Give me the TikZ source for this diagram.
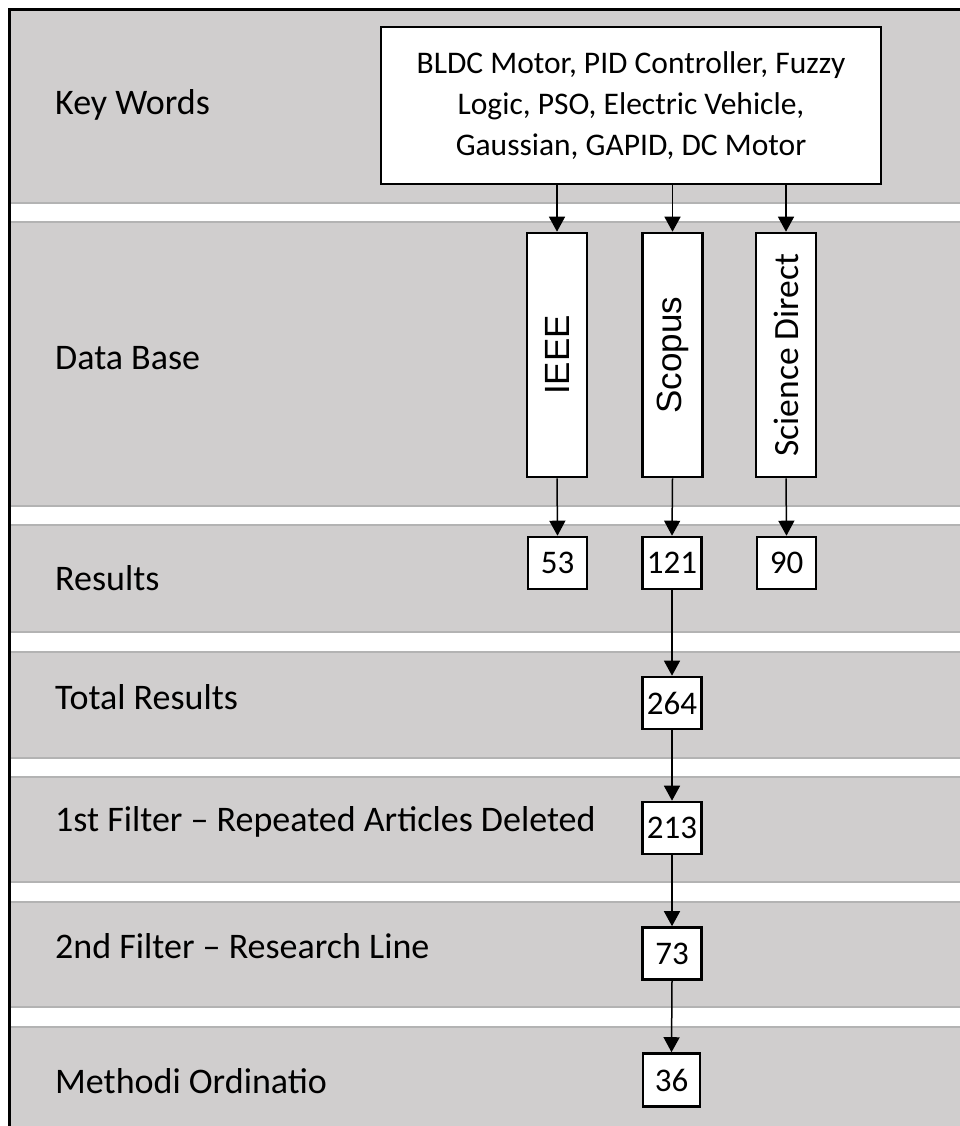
\documentclass[tikz,border=0pt]{standalone}
\usepackage{fontspec}
\setmainfont{Carlito}
\newfontfamily\arialf{Liberation Sans}
\usetikzlibrary{arrows.meta}
\definecolor{bandgray}{HTML}{D0CECE}
\definecolor{edgegray}{HTML}{B3B3B3}
\begin{document}
\begin{tikzpicture}[x=1pt,y=-1pt,
  box/.style={draw=black, line width=2.6pt, fill=white, inner sep=0pt},
  vbox/.style={box, minimum width=60pt, minimum height=244pt},
  nbox/.style={box, minimum width=59pt, minimum height=52pt, font=\fontsize{33}{38}\selectfont},
  lab/.style={anchor=west, inner sep=0pt, font=\fontsize{36}{42}\selectfont},
  arr/.style={line width=1.5pt, -{Triangle[width=16pt,length=15pt]}}]
\useasboundingbox (0,0) rectangle (960,1126);
\clip (0,0) rectangle (960,1126);
\fill[white] (0,0) rectangle (960,1126);
% bands
\foreach \a/\b in {10/203, 222/506, 525/632, 652/758, 777/882, 902/1007, 1027/1150} {
  \fill[bandgray] (9,\a) rectangle (970,\b);
  \draw[edgegray, line width=1.5pt] (9,\a) -- (970,\a) (9,\b) -- (970,\b);
}
% outer frame
\draw[line width=3pt] (9.5,10) rectangle (980,1160);
% labels
\node[lab] (l1) at (55,105) {Key Words};
\node[lab] (l2) at (55,358) {Data Base};
\node[lab] (l3) at (55,578) {Results};
\node[lab] (l4) at (55,697) {Total Results};
\node[lab] (l5) at (55,822) {1st Filter – Repeated Articles Deleted};
\node[lab] (l6) at (55,946) {2nd Filter – Research Line};
\node[lab] (l7) at (55,1081) {Methodi Ordinatio};
% key words box
\node[box, minimum width=500pt, minimum height=157pt, align=center,
  font=\fontsize{31.5}{41}\selectfont] (kw) at (631,105.5)
  {BLDC Motor, PID Controller, Fuzzy\\Logic, PSO, Electric Vehicle,\\Gaussian, GAPID, DC Motor};
% databases
\node[vbox] (ieee) at (557,355) {};
\node[rotate=90, font=\arialf\fontsize{35}{40}\selectfont] (ieeet) at (ieee.center) {IEEE};
\node[vbox] (scopus) at (672.5,355) {};
\node[rotate=90, font=\arialf\fontsize{35}{40}\selectfont] (scopust) at (scopus.center) {Scopus};
\node[vbox] (sd) at (786,355) {};
\node[rotate=90, font=\fontsize{35.5}{40}\selectfont] (sdt) at (sd.center) {Science Direct};
% results
\node[nbox] (r1) at (557.5,563) {53};
\node[nbox] (r2) at (672,563) {121};
\node[nbox] (r3) at (786.5,563) {90};
\node[nbox] (tot) at (672,703) {264};
\node[nbox] (f1) at (672,828) {213};
\node[nbox] (f2) at (672,953.5) {73};
\node[nbox, minimum width=57pt, minimum height=53pt] (mo) at (671.5,1080) {36};
% connectors
\draw[arr] (kw.south -| ieee.north) -- (ieee.north);
\draw[arr] (kw.south -| scopus.north) -- (scopus.north);
\draw[arr] (kw.south -| sd.north) -- (sd.north);
\draw[arr] (ieee.south) -- (r1.north);
\draw[arr] (scopus.south) -- (r2.north);
\draw[arr] (sd.south) -- (r3.north);
\draw[arr] (r2.south) -- (tot.north);
\draw[arr] (tot.south) -- (f1.north);
\draw[arr] (f1.south) -- (f2.north);
\draw[arr] (f2.south) -- (mo.north);
\end{tikzpicture}
\end{document}
